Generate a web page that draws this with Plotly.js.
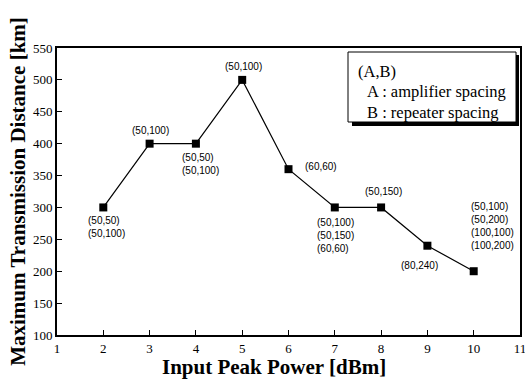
<!DOCTYPE html>
<html>
<head>
<meta charset="utf-8">
<script src="https://cdn.plot.ly/plotly-3.0.1.min.js"></script>
<style>html,body{margin:0;padding:0;background:#fff;}#chart{width:525px;height:382px;}</style>
</head>
<body>
<div id="chart"></div>
<script>
// Data
const powerDbm = [2, 3, 4, 5, 6, 7, 8, 9, 10];
const maxDistanceKm = [300, 400, 400, 500, 360, 300, 300, 240, 200];
const spacingLabels = [
  ["(50,50)", "(50,100)"],
  ["(50,100)"],
  ["(50,50)", "(50,100)"],
  ["(50,100)"],
  ["(60,60)"],
  ["(50,100)", "(50,150)", "(60,60)"],
  ["(50,150)"],
  ["(80,240)"],
  ["(50,100)", "(50,200)", "(100,100)", "(100,200)"]
];
const xTickVals = [1, 2, 3, 4, 5, 6, 7, 8, 9, 10, 11];
const yTickVals = [100, 150, 200, 250, 300, 350, 400, 450, 500, 550];
const legendLines = ["(A,B)", "A : amplifier spacing", "B : repeater spacing"];
const xTitle = "Input Peak Power [dBm]";
const yTitle = "Maximum Transmission Distance [km]";

// Label placement (style only)
const placement = [
  {xa: 'left', ya: 'top', xs: -17, ys: -6},
  {xa: 'center', ya: 'bottom', xs: 1, ys: 6},
  {xa: 'left', ya: 'top', xs: -16, ys: -6},
  {xa: 'center', ya: 'bottom', xs: 1, ys: 6},
  {xa: 'left', ya: 'middle', xs: 14, ys: 3},
  {xa: 'left', ya: 'top', xs: -20, ys: -8},
  {xa: 'center', ya: 'bottom', xs: 2, ys: 8},
  {xa: 'center', ya: 'top', xs: -8, ys: -12},
  {xa: 'left', ya: 'bottom', xs: -5, ys: 18}
];

const W = 525, H = 382;
const M = {l: 57, r: 5, t: 48, b: 47};
const pw = W - M.l - M.r, ph = H - M.t - M.b;
const px = v => (v - M.l) / pw;
const py = v => (H - M.b - v) / ph;
const SERIF = 'Liberation Serif, Times New Roman, serif';

const annotations = powerDbm.map((x, i) => ({
  x: x, y: maxDistanceKm[i], xref: 'x', yref: 'y',
  text: spacingLabels[i].join('<br>'), showarrow: false,
  xanchor: placement[i].xa, yanchor: placement[i].ya, align: 'left',
  xshift: placement[i].xs, yshift: placement[i].ys,
  font: {family: 'Liberation Sans, Arial, sans-serif', size: 10, color: '#000'}
}));

// Legend box text
const legY = [71, 92, 112];
const legX = [356, 365, 365];
legendLines.forEach((t, i) => {
  annotations.push({
    x: px(legX[i]), y: py(legY[i]), xref: 'paper', yref: 'paper',
    text: t, showarrow: false, xanchor: 'left', yanchor: 'middle',
    font: {family: SERIF, size: 16.5, color: '#000'}
  });
});

// X-axis title (placed slightly left of centre, as in the original)
annotations.push({
  x: px(274), y: py(367), xref: 'paper', yref: 'paper',
  text: '<b>' + xTitle + '</b>', showarrow: false, xanchor: 'center', yanchor: 'middle',
  font: {family: SERIF, size: 21, color: '#000'}
});

const shapes = [
  {type: 'rect', xref: 'paper', yref: 'paper', x0: px(352), x1: px(519), y0: py(55), y1: py(126),
   fillcolor: '#000', line: {width: 0}},
  {type: 'rect', xref: 'paper', yref: 'paper', x0: px(348), x1: px(516), y0: py(52), y1: py(122),
   fillcolor: '#fff', line: {color: '#000', width: 1}}
];

const trace = {
  x: powerDbm, y: maxDistanceKm, type: 'scatter', mode: 'lines+markers',
  line: {color: '#000', width: 1.2},
  marker: {symbol: 'square', size: 8, color: '#000'},
  hoverinfo: 'none', showlegend: false
};

const layout = {
  width: W, height: H,
  margin: M,
  paper_bgcolor: '#fff', plot_bgcolor: '#fff',
  font: {family: SERIF, color: '#000'},
  xaxis: {
    range: [1, 11], tickvals: xTickVals, ticktext: xTickVals.map(String),
    ticks: 'inside', ticklen: 5, tickwidth: 1, tickcolor: '#000',
    showline: true, linecolor: '#000', linewidth: 2, mirror: true,
    showgrid: false, zeroline: false, ticklabeloverflow: 'allow',
    tickfont: {size: 13, family: SERIF}
  },
  yaxis: {
    range: [100, 550], tickvals: yTickVals, ticktext: yTickVals.map(String),
    ticks: 'inside', ticklen: 5, tickwidth: 1, tickcolor: '#000',
    showline: true, linecolor: '#000', linewidth: 2, mirror: true,
    showgrid: false, zeroline: false,
    tickfont: {size: 13, family: SERIF},
    title: {text: '<b>' + yTitle + '</b>', standoff: 2,
      font: {size: 21, family: SERIF}}
  },
  annotations: annotations,
  shapes: shapes
};

Plotly.newPlot('chart', [trace], layout, {staticPlot: true, displayModeBar: false});
</script>
</body>
</html>
